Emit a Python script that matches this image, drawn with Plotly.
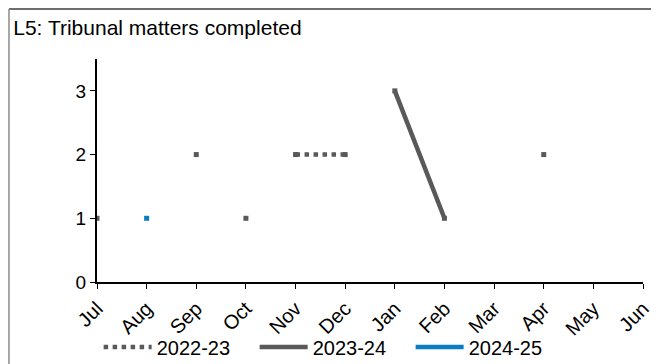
import plotly.graph_objects as go

months = ["Jul", "Aug", "Sep", "Oct", "Nov", "Dec", "Jan", "Feb", "Mar", "Apr", "May", "Jun"]
y_2022_23 = [None, None, 2, None, 2, 2, None, None, None, None, None, None]
y_2023_24 = [1, None, None, 1, None, None, 3, 1, None, 2, None, None]
y_2024_25 = [None, 1, None, None, None, None, None, None, None, None, None, None]

GREY = "#595959"
BLUE = "#0B7BC2"
FONT = "Liberation Sans, Arial, sans-serif"

series = [
    ("2022-23", y_2022_23, GREY, "dot"),
    ("2023-24", y_2023_24, GREY, "solid"),
    ("2024-25", y_2024_25, BLUE, "solid"),
]

x_idx = list(range(len(months)))

fig = go.Figure()
for name, vals, color, dash in series:
    fig.add_trace(go.Scatter(
        x=x_idx, y=vals, name=name, mode="lines",
        line=dict(color=color, width=4.5, dash=dash),
        connectgaps=False,
    ))
    # isolated points show as small squares
    fig.add_trace(go.Scatter(
        x=x_idx, y=vals, mode="markers", showlegend=False, hoverinfo="skip",
        marker=dict(symbol="square", size=5, color=color, line_width=0),
    ))

# chart frame (top and left edges visible)
fig.add_shape(type="line", xref="paper", yref="paper", x0=-0.1612, x1=1.2, y0=1.2242, y1=1.2242,
              line=dict(color="#6e6e6e", width=2))
fig.add_shape(type="line", xref="paper", yref="paper", x0=-0.1612, x1=-0.1612, y0=1.2242, y1=-0.6,
              line=dict(color="#8a8a8a", width=1.5))

fig.update_layout(
    width=659, height=364,
    margin=dict(l=89, r=24, t=51, b=90, autoexpand=False),
    paper_bgcolor="white", plot_bgcolor="white",
    font=dict(family=FONT, size=18, color="black"),
    title=dict(text="L5: Tribunal matters completed", xref="container", yref="container",
               x=0.008, y=0.945, xanchor="left", yanchor="middle",
               font=dict(family=FONT, size=21, color="black")),
    showlegend=True,
    legend=dict(orientation="h", x=0.003, y=-0.2915, xanchor="left", yanchor="middle",
                font=dict(family=FONT, size=20, color="black"),
                itemwidth=48, entrywidth=93, bgcolor="rgba(0,0,0,0)"),
    xaxis=dict(
        range=[0, 11], tickmode="array", tickvals=x_idx, ticktext=months,
        tickangle=-45, showgrid=False, zeroline=False, automargin=False,
        showline=True, linecolor="black", linewidth=2,
        ticks="outside", ticklen=5, tickwidth=1, tickcolor="black",
        tickfont=dict(family=FONT, size=20, color="black"),
    ),
    yaxis=dict(
        range=[0, 3.5], tickvals=[0, 1, 2, 3], showgrid=False, zeroline=False, automargin=False,
        showline=True, linecolor="black", linewidth=2,
        ticks="outside", ticklen=5, tickwidth=1, tickcolor="black",
        tickfont=dict(family=FONT, size=19, color="black"),
    ),
)

fig.write_html("out.html")
